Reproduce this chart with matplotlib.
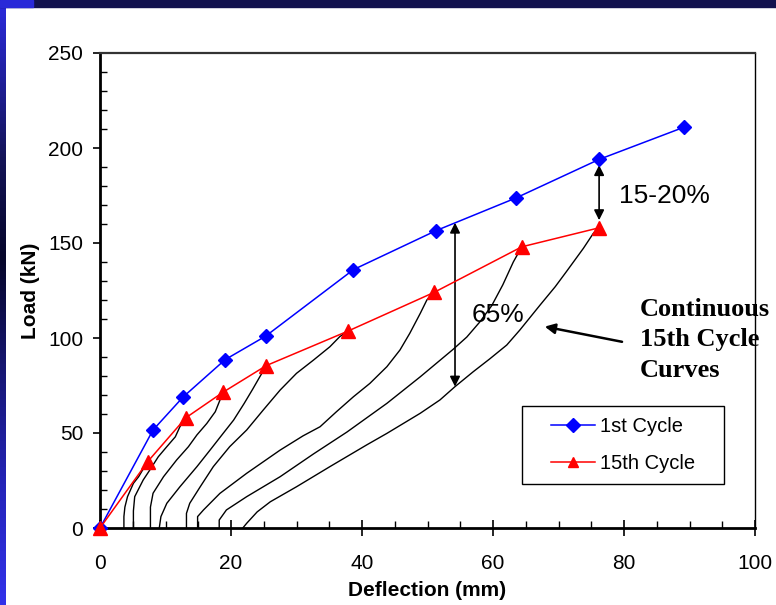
import numpy as np
import matplotlib
matplotlib.use("Agg")
import matplotlib.pyplot as plt
from matplotlib.ticker import MultipleLocator
from matplotlib.patches import Rectangle
from matplotlib.colors import LinearSegmentedColormap

# peak load envelopes
defl_1st = [0, 8.1, 12.7, 19.1, 25.3, 38.7, 51.3, 63.5, 76.2, 89.2]
load_1st = [0, 51.6, 69, 88.6, 101, 136, 156.5, 173.7, 194, 211]
defl_15th = [0, 7.3, 13.1, 18.8, 25.4, 37.9, 51.0, 64.4, 76.2]
load_15th = [0, 35, 58, 71.5, 85.5, 103.7, 124, 148, 158]

# continuous 15th cycle loading curves
c1_x = [3.65, 3.65, 3.8, 4.2, 5.1, 5.9, 6.5, 7.3]
c1_y = [0, 6, 11, 16.5, 23.5, 27, 30.5, 35]
c2_x = [5.1, 5.1, 5.3, 6.6, 7.6, 8.9, 10.2, 11.5, 12.2, 13.1]
c2_y = [0, 9, 16.5, 25.3, 30.5, 37.5, 42.8, 48, 53.3, 58]
c3_x = [7.7, 7.7, 8.1, 9.7, 11.7, 13.5, 14.8, 16.3, 17.6, 18.8]
c3_y = [0, 11, 18.3, 27, 35.8, 42.8, 49, 55, 61.2, 71.5]
c4_x = [9.05, 9.3, 10.2, 12.2, 14.8, 16.8, 18.8, 20.4, 22.0, 23.3, 24.3, 25.4]
c4_y = [0, 6, 13, 21.7, 32.3, 41, 49.8, 56.8, 65.5, 73, 79, 85.5]
c5_x = [13.2, 13.2, 13.7, 15.3, 17.3, 19.8, 22.4, 24.9, 27.5, 30.0, 32.6, 35.1, 36.6, 37.9]
c5_y = [0, 7.7, 13, 21.7, 32.3, 42.8, 51.6, 62, 72.6, 81.4, 88.4, 95.4, 100.7, 103.7]
c6_x = [14.9, 14.9, 15.8, 18.3, 22.4, 27.5, 31.0, 33.6, 36.1, 38.7, 41.2, 43.8, 45.8,
        47.3, 48.9, 49.9, 51.0]
c6_y = [0, 6, 9.5, 18.2, 28.8, 41, 48.5, 53.3, 61.2, 69.1, 76.1, 84.9, 93.7,
        102.5, 113, 120, 124]
c7_x = [18.2, 18.2, 19.3, 22.4, 27.5, 32.6, 37.7, 43.8, 48.9, 53.9, 56.0, 58.0, 59.8,
        61.5, 63.1, 64.4]
c7_y = [0, 4.2, 9.5, 16.5, 27, 39, 50.5, 65.6, 79.6, 94, 100.5, 108.5, 117, 128, 140, 148]
c8_x = [21.8, 22.4, 24.0, 26.0, 30.0, 35.1, 40.7, 43.8, 48.9, 51.9, 54.2, 57.0, 59.5,
        62.1, 64.1, 67.2, 69.5, 71.2, 73.8, 75.3, 76.2]
c8_y = [0, 2.5, 8.5, 13.8, 21.7, 32.3, 43.7, 49.8, 60.4, 67.4, 74.4, 82.3, 89, 96.3,
        104.2, 117.4, 127, 134.9, 147.2, 155, 158]
curves = [(c1_x, c1_y), (c2_x, c2_y), (c3_x, c3_y), (c4_x, c4_y),
          (c5_x, c5_y), (c6_x, c6_y), (c7_x, c7_y), (c8_x, c8_y)]

SANS = "Liberation Sans"
SERIF = "Liberation Serif"

fig = plt.figure(figsize=(7.76, 6.05), dpi=100)
fig.patch.set_facecolor("white")

# slide border: dark top strip and shaded left strip
fig.patches.append(Rectangle((0, 1 - 7 / 605), 1, 7 / 605, transform=fig.transFigure,
                             color="#12124e", zorder=0))
fig.patches.append(Rectangle((0, 1 - 7 / 605), 33 / 776, 7 / 605, transform=fig.transFigure,
                             color="#2a2ad8", zorder=1))
bar = fig.add_axes([0, 0, 5.5 / 776, 1 - 7 / 605])
shade = LinearSegmentedColormap.from_list(
    "strip", [(0.0, "#2a2ad8"), (0.25, "#141458"), (0.42, "#06062a"),
              (0.6, "#161670"), (0.8, "#2424b8"), (1.0, "#3232ea")])
bar.imshow(np.linspace(0, 1, 200)[:, None], aspect="auto", cmap=shade)
bar.axis("off")

ax = fig.add_axes([100 / 776, 77 / 605, 655 / 776, 475 / 605])

for cx, cy in curves:
    ax.plot(cx, cy, color="black", lw=1.0, zorder=2)

ax.plot(defl_1st, load_1st, color="#0000ff", lw=1.1, marker="D", markersize=7.5,
        label="1st Cycle", clip_on=False, zorder=4)
ax.plot(defl_15th, load_15th, color="#ff0000", lw=1.1, marker="^", markersize=9.5,
        label="15th Cycle", clip_on=False, zorder=5)

ax.set_xlim(0, 100)
ax.set_ylim(0, 250)
ax.xaxis.set_major_locator(MultipleLocator(20))
ax.xaxis.set_minor_locator(MultipleLocator(5))
ax.yaxis.set_major_locator(MultipleLocator(50))
ax.yaxis.set_minor_locator(MultipleLocator(10))
ax.tick_params(axis="x", which="major", direction="inout", length=11, width=1.2, pad=13,
               labelsize=15)
ax.tick_params(axis="x", which="minor", direction="in", length=5, width=1)
ax.tick_params(axis="y", which="major", direction="out", length=5, width=1.2, pad=7,
               labelsize=15)
ax.tick_params(axis="y", which="minor", direction="in", length=5, width=1)
for lab in ax.get_xticklabels() + ax.get_yticklabels():
    lab.set_fontfamily(SANS)

ax.spines["left"].set_linewidth(2)
ax.spines["bottom"].set_linewidth(2)
ax.spines["top"].set_linewidth(1.6)
ax.spines["top"].set_color("#333333")
ax.spines["right"].set_linewidth(1)

ax.set_xlabel("Deflection (mm)", fontsize=15, fontweight="bold", family=SANS, labelpad=6)
ax.set_ylabel("Load (kN)", fontsize=15, fontweight="bold", family=SANS, labelpad=6)

# gap between envelopes
arrow = dict(arrowstyle="<|-|>", color="black", lw=1.2, mutation_scale=15,
             shrinkA=0, shrinkB=0)
ax.annotate("", xy=(54.2, 74.4), xytext=(54.2, 160.7), arrowprops=arrow)
ax.text(60.8, 112, "65%", fontsize=19, family=SANS, ha="center", va="center")
ax.annotate("", xy=(76.2, 162), xytext=(76.2, 191), arrowprops=arrow)
ax.text(79.2, 174.5, "15-20%", fontsize=19, family=SANS, ha="left", va="center")

ax.annotate("", xy=(67.9, 106), xytext=(79.7, 98),
            arrowprops=dict(arrowstyle="-|>", color="black", lw=1.8, mutation_scale=15,
                            shrinkA=0, shrinkB=0))
ax.text(82.4, 99, "Continuous\n15th Cycle\nCurves", fontsize=19, family=SERIF,
        fontweight="bold", ha="left", va="center", linespacing=1.42, clip_on=False)

ax.add_patch(Rectangle((0.645, 0.092), 0.307, 0.165, transform=ax.transAxes,
                       facecolor="white", edgecolor="black", lw=1, zorder=6))
leg = ax.legend(loc="center", bbox_to_anchor=(0.7985, 0.1747), frameon=False,
                prop={"family": SANS, "size": 14.5}, handlelength=2.2,
                handletextpad=0.25, labelspacing=0.85, borderpad=0)
leg.set_zorder(7)
for h in leg.legend_handles:
    h.set_markersize(7.5)

fig.savefig("out.png", dpi=100)
